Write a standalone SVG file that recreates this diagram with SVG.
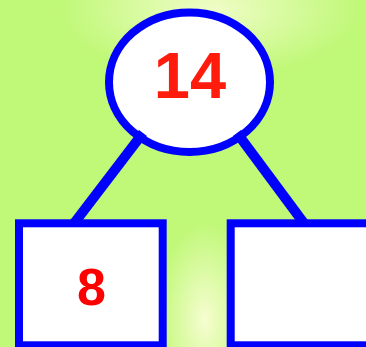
<svg xmlns="http://www.w3.org/2000/svg" width="366" height="347" viewBox="0 0 366 347">
<defs>
<radialGradient id="gTop" cx="210" cy="10" r="150" gradientUnits="userSpaceOnUse" gradientTransform="translate(210 10) scale(1 0.45) translate(-210 -10)">
<stop offset="0" stop-color="#f0fdc8" stop-opacity="1"/>
<stop offset="1" stop-color="#f0fdc8" stop-opacity="0"/>
</radialGradient>
<radialGradient id="gBot" cx="205" cy="320" r="70" gradientUnits="userSpaceOnUse" gradientTransform="translate(205 320) scale(0.7 1.4) translate(-205 -320)">
<stop offset="0" stop-color="#f6fdd0" stop-opacity="1"/>
<stop offset="1" stop-color="#f6fdd0" stop-opacity="0"/>
</radialGradient>
<style>
.shape{fill:#ffffff;stroke:#0000ff;stroke-width:8}
.conn{stroke:#0000ff;stroke-width:10;stroke-linecap:butt;fill:none}
.num{font-family:"Liberation Sans",Arial,sans-serif;font-weight:bold;text-anchor:middle}
</style>
</defs>
<rect x="0" y="0" width="366" height="347" fill="#c0f878"/>
<rect x="0" y="0" width="366" height="347" fill="url(#gTop)"/>
<rect x="0" y="0" width="366" height="347" fill="url(#gBot)"/>
<g id="root">
<ellipse class="shape" cx="189.5" cy="82.2" rx="80.5" ry="69.8"/>
<text class="num" x="190" y="98" font-size="65" fill="#ff1c0c">14</text>
</g>
<g id="connectors">
<line class="conn" x1="143" y1="133" x2="72" y2="226"/>
<line class="conn" x1="237" y1="133" x2="306" y2="226"/>
</g>
<g id="left">
<rect class="shape" x="19" y="223.3" width="143.7" height="122"/>
<text class="num" x="91.5" y="304.5" font-size="52" fill="#ff0000">8</text>
</g>
<g id="right">
<rect class="shape" x="230.7" y="223.3" width="150" height="122"/>
</g>
</svg>
